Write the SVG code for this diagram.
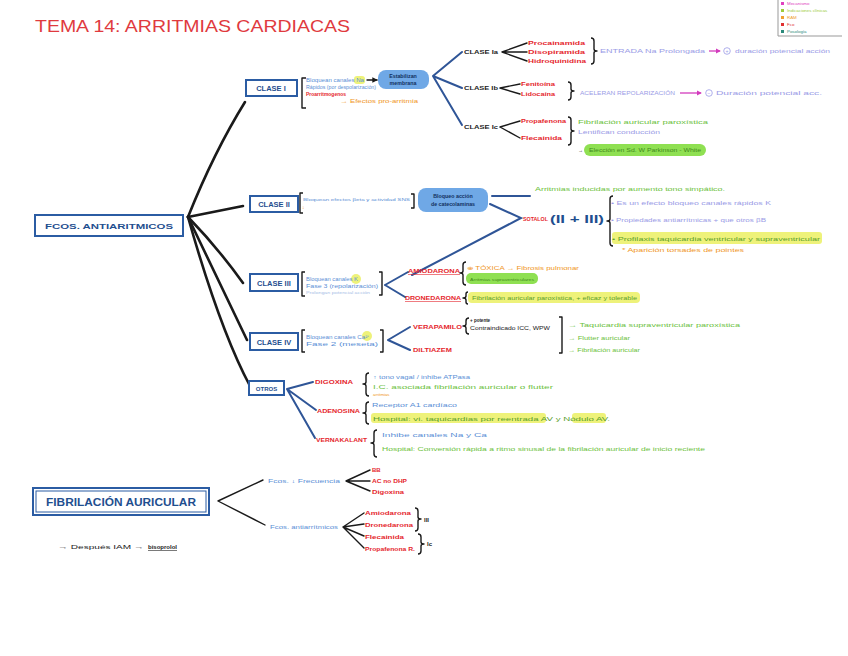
<svg xmlns="http://www.w3.org/2000/svg" width="848" height="656" viewBox="0 0 848 656">
<defs>
<style>
text{font-family:"Liberation Sans",Arial,sans-serif;}
.ttl{fill:#e03a3e;font-size:17px;}
.red{fill:#e5262d;font-weight:bold;font-size:6px;}
.blue{fill:#5b8fd6;font-size:4.8px;}
.lblue{fill:#a7bde6;font-size:4px;}
.green{fill:#6cbf3c;font-size:5px;}
.dgreen{fill:#3f8a1c;font-size:5px;}
.purple{fill:#9a9be6;font-size:5.2px;}
.orange{fill:#f0961e;font-size:5px;}
.blk{fill:#222;font-size:5px;}
.cls{fill:#1f4f8f;font-weight:bold;font-size:7.5px;}
.clsk{fill:#222;font-weight:bold;font-size:6px;}
.box{fill:#fff;stroke:#2b5ca3;stroke-width:2;}
.bub{fill:#6fa8e6;}
.bubt{fill:#12305e;font-weight:bold;font-size:5.3px;}
.main{fill:none;stroke:#1a1a1a;stroke-width:2.6;stroke-linecap:round;}
.bl{fill:none;stroke:#2f5597;stroke-width:2;stroke-linecap:round;}
.thin{fill:none;stroke:#1a1a1a;stroke-width:1.4;stroke-linecap:round;}
.br{fill:none;stroke:#1a1a1a;stroke-width:1.4;stroke-linejoin:round;}
.hy{fill:#eef27a;}
.hg{fill:#8fe052;}
</style>
<marker id="ah" viewBox="0 0 6 6" refX="5" refY="3" markerWidth="4" markerHeight="4" orient="auto"><path d="M0,0 L6,3 L0,6 z" fill="#1a1a1a"/></marker>
<marker id="ahm" viewBox="0 0 6 6" refX="5" refY="3" markerWidth="4" markerHeight="4" orient="auto"><path d="M0,0 L6,3 L0,6 z" fill="#d33bbd"/></marker>
</defs>
<rect width="848" height="656" fill="#fff"/>

<text class="ttl" x="35" y="32" textLength="315" lengthAdjust="spacingAndGlyphs">TEMA 14: ARRITMIAS CARDIACAS</text>

<g id="legend">
<path d="M778,0 L778,36 L842,36" fill="none" stroke="#999" stroke-width="1"/>
<rect x="781" y="2" width="3" height="3" fill="#e040c0"/><text x="787" y="5" style="font-size:4.4px;fill:#e040c0">Mecanismo</text>
<rect x="781" y="9" width="3" height="3" fill="#9ccc3c"/><text x="787" y="12" style="font-size:4.4px;fill:#9ccc3c">Indicaciones clínicas</text>
<rect x="781" y="16" width="3" height="3" fill="#f0a030"/><text x="787" y="19" style="font-size:4.4px;fill:#f0a030">RAM</text>
<rect x="781" y="23" width="3" height="3" fill="#e03030"/><text x="787" y="26" style="font-size:4.4px;fill:#e03030">Fco</text>
<rect x="781" y="30" width="3" height="3" fill="#2a8a7a"/><text x="787" y="33" style="font-size:4.4px;fill:#2a8a7a">Posología</text>
</g>

<g id="connectors">
<path class="main" d="M188,217 Q214,152 245,102"/>
<path class="main" d="M188,217 L243,206"/>
<path class="main" d="M188,217 Q218,248 243,283"/>
<path class="main" d="M188,217 Q226,296 247,340"/>
<path class="main" d="M188,217 Q220,330 250,386"/>
<path class="bl" d="M433,76 L462,52 M433,76 L462,88 M433,76 L462,125"/>
<path class="thin" d="M502,52 L527,43 M502,52 L527,52 M502,52 L527,61"/>
<path class="thin" d="M500,88 L520,84 M500,88 L520,94"/>
<path class="thin" d="M500,127 L520,121 M500,127 L520,138"/>
<path class="bl" d="M492,196 L530,196 M490,204 L521,218 L412,275"/>
<path class="bl" d="M385,285 L408,272 M385,285 L405,297"/>
<path class="bl" d="M388,340 L410,327 M388,340 L410,350"/>
<path class="bl" d="M287,389 L313,382 M287,389 L316,410 M287,389 L315,438"/>
<path class="thin" d="M218,501 L263,480 M218,501 L265,525"/>
<path class="thin" d="M346,481 L370,470 M346,481 L370,481 M346,481 L370,491"/>
<path class="thin" d="M343,527 L364,513 M343,527 L364,524 M343,527 L364,536 M343,527 L364,548"/>
<path class="thin" d="M367,80 L377,80" marker-end="url(#ah)"/>
</g>

<g id="fcos">
<rect class="box" x="35" y="215" width="148" height="21"/>
<text class="cls" x="109" y="229" text-anchor="middle" textLength="128" lengthAdjust="spacingAndGlyphs">FCOS. ANTIARITMICOS</text>
</g>

<g id="clase1">
<rect class="box" x="246" y="80" width="51" height="16"/>
<text class="cls" x="271" y="91" text-anchor="middle">CLASE I</text>
<path class="br" d="M306,78 L302,78 L302,108 L306,108"/>
<rect class="hy" x="354" y="76" width="11" height="8" rx="3"/>
<text class="blue" x="306" y="82" textLength="58" lengthAdjust="spacingAndGlyphs">Bloquean canales Na</text>
<text class="blue" x="306" y="89" textLength="70" lengthAdjust="spacingAndGlyphs">Rápidos (por despolarización)</text>
<text class="red" x="306" y="96" style="font-size:4.5px" textLength="40" lengthAdjust="spacingAndGlyphs">Proarritmogenos</text>
<text class="orange" x="340" y="103" textLength="78" lengthAdjust="spacingAndGlyphs">→ Efectos pro-arritmia</text>
<rect class="bub" x="378" y="70" width="51" height="19" rx="8"/>
<text class="bubt" x="403" y="78" text-anchor="middle">Estabilizan</text>
<text class="bubt" x="403" y="85" text-anchor="middle">membrana</text>
</g>

<g id="clase1a">
<text class="clsk" x="464" y="54" textLength="34" lengthAdjust="spacingAndGlyphs">CLASE Ia</text>
<text class="red" x="528" y="45" textLength="57" lengthAdjust="spacingAndGlyphs">Procainamida</text>
<text class="red" x="528" y="54" textLength="57" lengthAdjust="spacingAndGlyphs">Disopiramida</text>
<text class="red" x="528" y="63" textLength="58" lengthAdjust="spacingAndGlyphs">Hidroquinidina</text>
<path class="br" d="M591,38 Q594,38 594,41 L594,49 Q594,51 597,51 Q594,51 594,53 L594,61 Q594,64 591,64"/>
<text class="purple" x="600" y="53" textLength="105" lengthAdjust="spacingAndGlyphs">ENTRADA  Na Prolongada</text>
<path d="M709,51 L720,51" stroke="#d33bbd" stroke-width="1.3" marker-end="url(#ahm)"/>
<circle cx="727" cy="51" r="3.3" fill="none" stroke="#9a9be6" stroke-width="0.8"/>
<text class="purple" x="727" y="53" text-anchor="middle" style="font-size:5px">+</text>
<text class="purple" x="735" y="53" textLength="95" lengthAdjust="spacingAndGlyphs">duración potencial acción</text>
</g>

<g id="clase1b">
<text class="clsk" x="464" y="90" textLength="34" lengthAdjust="spacingAndGlyphs">CLASE Ib</text>
<text class="red" x="521" y="86" textLength="34" lengthAdjust="spacingAndGlyphs">Fenitoína</text>
<text class="red" x="521" y="96" textLength="34" lengthAdjust="spacingAndGlyphs">Lidocaína</text>
<path class="br" d="M568,82 Q571,82 571,85 L571,89 Q571,91 574,91 Q571,91 571,93 L571,97 Q571,100 568,100"/>
<text class="purple" x="580" y="95" textLength="95" lengthAdjust="spacingAndGlyphs">ACELERAN  REPOLARIZACIÓN</text>
<path d="M680,93 L701,93" stroke="#d33bbd" stroke-width="1.3" marker-end="url(#ahm)"/>
<circle cx="709" cy="93" r="3.3" fill="none" stroke="#9a9be6" stroke-width="0.8"/>
<text class="purple" x="709" y="95" text-anchor="middle" style="font-size:5px">−</text>
<text class="purple" x="716" y="95" textLength="106" lengthAdjust="spacingAndGlyphs">Duración potencial acc.</text>
</g>

<g id="clase1c">
<text class="clsk" x="464" y="129" textLength="34" lengthAdjust="spacingAndGlyphs">CLASE Ic</text>
<text class="red" x="521" y="123" textLength="45" lengthAdjust="spacingAndGlyphs">Propafenona</text>
<text class="red" x="521" y="140" textLength="41" lengthAdjust="spacingAndGlyphs">Flecainida</text>
<path class="br" d="M568,117 Q571,117 571,120 L571,129 Q571,131 574,131 Q571,131 571,133 L571,142 Q571,145 568,145"/>
<text class="green" x="578" y="124" textLength="130" lengthAdjust="spacingAndGlyphs">Fibrilación auricular  paroxística</text>
<text class="purple" x="578" y="134" textLength="82" lengthAdjust="spacingAndGlyphs">Lentifican conducción</text>
<text class="blk" x="578" y="152">→</text>
<rect class="hg" x="584" y="144" width="122" height="12" rx="6"/>
<text class="dgreen" x="589" y="152" textLength="112" lengthAdjust="spacingAndGlyphs">Elección en  Sd. W  Parkinson - White</text>
</g>

<g id="clase2">
<rect class="box" x="250" y="196" width="48" height="16"/>
<text class="cls" x="274" y="207" text-anchor="middle">CLASE II</text>
<path class="br" d="M303,193 L300,193 L300,213 L303,213"/>
<text class="blue" x="303" y="201" style="font-size:4.3px" textLength="107" lengthAdjust="spacingAndGlyphs">Bloquean efectos βeta y actividad SNS</text>
<text class="orange" x="302" y="209" style="font-size:5px">↓</text>
<path class="br" d="M411,194 L414,194 L414,208 L411,208"/>
<rect class="bub" x="418" y="188" width="70" height="24" rx="8"/>
<text class="bubt" x="453" y="198" text-anchor="middle">Bloqueo acción</text>
<text class="bubt" x="453" y="206" text-anchor="middle">de catecolaminas</text>
<text class="green" x="535" y="191" textLength="190" lengthAdjust="spacingAndGlyphs">Arritmias inducidas por aumento tono simpático.</text>
</g>

<g id="sotalol">
<text class="red" x="523" y="221" textLength="25" lengthAdjust="spacingAndGlyphs">SOTALOL</text>
<text class="cls" x="550" y="223" style="font-size:10px" textLength="54" lengthAdjust="spacingAndGlyphs">(II + III)</text>
<path class="br" d="M613,196 Q610,196 610,199 L610,219 Q610,221 607,221 Q610,221 610,223 L610,243 Q610,246 613,246"/>
<text class="purple" x="611" y="205" textLength="160" lengthAdjust="spacingAndGlyphs">• Es un efecto bloqueo canales rápidos K</text>
<text class="purple" x="611" y="222" textLength="155" lengthAdjust="spacingAndGlyphs">• Propiedades antiarrítmicas + que otros βB</text>
<rect class="hy" x="612" y="232" width="210" height="12" rx="3"/>
<text class="green" x="612" y="241" style="fill:#5aa02c" textLength="208" lengthAdjust="spacingAndGlyphs">• Profilaxis taquicardia ventricular y supraventricular</text>
<text class="orange" x="622" y="252" textLength="122" lengthAdjust="spacingAndGlyphs">* Aparición torsades de pointes</text>
</g>

<g id="clase3">
<rect class="box" x="250" y="274" width="48" height="17"/>
<text class="cls" x="274" y="286" text-anchor="middle">CLASE III</text>
<path class="br" d="M305,272 L302,272 L302,296 L305,296"/>
<circle class="hy" cx="356" cy="279" r="5"/>
<text class="blue" x="306" y="281" textLength="52" lengthAdjust="spacingAndGlyphs">Bloquean canales K</text>
<text class="blue" x="306" y="288" textLength="72" lengthAdjust="spacingAndGlyphs">Fase 3 (repolarización)</text>
<text class="lblue" x="306" y="294" textLength="64" lengthAdjust="spacingAndGlyphs">Prolongan potencial acción</text>
<path class="br" d="M379,272 L382,272 L382,295 L379,295"/>
</g>

<g id="amiodarona">
<text class="red" x="408" y="273" style="text-decoration:underline" textLength="52" lengthAdjust="spacingAndGlyphs">AMIODARONA</text>
<path class="br" d="M466,262 Q463,262 463,265 L463,271 Q463,273 460,273 Q463,273 463,275 L463,282 Q463,285 466,285"/>
<text class="orange" x="467" y="270" textLength="112" lengthAdjust="spacingAndGlyphs">⊕ TÓXICA → Fibrosis pulmonar</text>
<rect class="hg" x="466" y="273" width="72" height="11" rx="5"/>
<text class="dgreen" x="470" y="281" style="font-size:4.2px" textLength="64" lengthAdjust="spacingAndGlyphs">Arritmias supraventriculares</text>
</g>

<g id="dronedarona">
<text class="red" x="405" y="300" style="text-decoration:underline" textLength="56" lengthAdjust="spacingAndGlyphs">DRONEDARONA</text>
<path class="br" d="M468,292 Q466,292 466,294 L466,296 Q466,298 463,298 Q466,298 466,300 L466,302 Q466,304 468,304"/>
<rect class="hy" x="468" y="292" width="172" height="11" rx="4"/>
<text class="green" x="472" y="300" style="fill:#5aa02c" textLength="165" lengthAdjust="spacingAndGlyphs">Fibrilación auricular paroxística, + eficaz y tolerable</text>
</g>

<g id="clase4">
<rect class="box" x="250" y="333" width="48" height="17"/>
<text class="cls" x="274" y="345" text-anchor="middle">CLASE IV</text>
<path class="br" d="M305,330 L302,330 L302,352 L305,352"/>
<circle class="hy" cx="367" cy="336" r="5"/>
<text class="blue" x="306" y="339" textLength="64" lengthAdjust="spacingAndGlyphs">Bloquean canales Ca²⁺</text>
<text class="blue" x="306" y="346" textLength="72" lengthAdjust="spacingAndGlyphs">Fase 2 (meseta)</text>
<path class="br" d="M380,330 L383,330 L383,352 L380,352"/>
</g>

<g id="verapamilo">
<text class="red" x="413" y="329" textLength="49" lengthAdjust="spacingAndGlyphs">VERAPAMILO</text>
<path class="br" d="M469,318 Q466,318 466,321 L466,324 Q466,326 463,326 Q466,326 466,328 L466,331 Q466,334 469,334"/>
<text class="blk" x="470" y="322" style="font-size:4.5px;font-weight:bold">+ potente</text>
<text class="blk" x="470" y="330" style="font-size:4.5px" textLength="80" lengthAdjust="spacingAndGlyphs">Contraindicado ICC, WPW</text>
<path class="br" d="M559,317 L562,317 L562,353 L559,353"/>
<text class="green" x="568" y="327" textLength="172" lengthAdjust="spacingAndGlyphs">→ Taquicardia supraventricular paroxística</text>
<text class="green" x="568" y="340" textLength="62" lengthAdjust="spacingAndGlyphs">→ Flutter auricular</text>
<text class="green" x="568" y="352" textLength="72" lengthAdjust="spacingAndGlyphs">→ Fibrilación auricular</text>
</g>

<g id="diltiazem">
<text class="red" x="413" y="352" textLength="39" lengthAdjust="spacingAndGlyphs">DILTIAZEM</text>
</g>

<g id="otros">
<rect class="box" x="249" y="381" width="35" height="14"/>
<text class="cls" x="266.5" y="391" text-anchor="middle" style="font-size:6px">OTROS</text>
</g>

<g id="digoxina">
<text class="red" x="315" y="384" textLength="38" lengthAdjust="spacingAndGlyphs">DIGOXINA</text>
<path class="br" d="M369,373 Q366,373 366,376 L366,382 Q366,384 363,384 Q366,384 366,386 L366,393 Q366,396 369,396"/>
<text class="blue" x="373" y="379" textLength="97" lengthAdjust="spacingAndGlyphs">↑ tono vagal / inhibe ATPasa</text>
<text class="green" x="373" y="389" textLength="180" lengthAdjust="spacingAndGlyphs">I.C. asociada  fibrilación auricular  o flutter</text>
<text class="orange" x="373" y="396" style="font-size:4.3px">arritmias</text>
</g>

<g id="adenosina">
<text class="red" x="317" y="413" textLength="43" lengthAdjust="spacingAndGlyphs">ADENOSINA</text>
<path class="br" d="M369,402 Q366,402 366,405 L366,411 Q366,413 363,413 Q366,413 366,415 L366,421 Q366,424 369,424"/>
<text class="blue" x="372" y="407" textLength="85" lengthAdjust="spacingAndGlyphs">Receptor A1 cardíaco</text>
<rect class="hy" x="371" y="413" width="175" height="10" rx="3"/>
<rect class="hy" x="572" y="413" width="34" height="10" rx="3"/>
<text class="green" x="373" y="421" style="fill:#5aa02c" textLength="237" lengthAdjust="spacingAndGlyphs">Hospital: vi. taquicardias por reentrada AV y Nódulo AV.</text>
</g>

<g id="vernakalant">
<text class="red" x="316" y="442" textLength="51" lengthAdjust="spacingAndGlyphs">VERNAKALANT</text>
<path class="br" d="M377,430 Q374,430 374,433 L374,441 Q374,443 371,443 Q374,443 374,445 L374,454 Q374,457 377,457"/>
<text class="blue" x="382" y="437" textLength="105" lengthAdjust="spacingAndGlyphs">Inhibe canales Na y Ca</text>
<text class="green" x="382" y="451" textLength="323" lengthAdjust="spacingAndGlyphs">Hospital: Conversión rápida a ritmo sinusal de la fibrilación auricular de inicio reciente</text>
</g>

<g id="fa">
<rect class="box" x="33" y="488" width="176" height="27"/>
<rect x="36" y="491" width="170" height="21" fill="none" stroke="#2b5ca3" stroke-width="1"/>
<text class="cls" x="121" y="506" text-anchor="middle" style="font-size:10px" textLength="150" lengthAdjust="spacingAndGlyphs">FIBRILACIÓN AURICULAR</text>
</g>

<g id="fa-frecuencia">
<text class="blue" x="268" y="483" style="font-size:5px" textLength="72" lengthAdjust="spacingAndGlyphs">Fcos. ↓ Frecuencia</text>
<text class="red" x="372" y="472">BB</text>
<text class="red" x="372" y="483" textLength="35" lengthAdjust="spacingAndGlyphs">AC no DHP</text>
<text class="red" x="372" y="494" textLength="32" lengthAdjust="spacingAndGlyphs">Digoxina</text>
</g>

<g id="fa-antiarritmicos">
<text class="blue" x="270" y="529" style="font-size:5px" textLength="68" lengthAdjust="spacingAndGlyphs">Fcos. antiarrítmicos</text>
<text class="red" x="365" y="515" textLength="46" lengthAdjust="spacingAndGlyphs">Amiodarona</text>
<text class="red" x="365" y="527" textLength="48" lengthAdjust="spacingAndGlyphs">Dronedarona</text>
<text class="red" x="365" y="539" textLength="39" lengthAdjust="spacingAndGlyphs">Flecainida</text>
<text class="red" x="365" y="551" textLength="50" lengthAdjust="spacingAndGlyphs">Propafenona R.</text>
<path class="br" d="M415,508 Q418,508 418,511 L418,517 Q418,519 421,519 Q418,519 418,521 L418,528 Q418,531 415,531"/>
<text class="blk" x="424" y="522" style="font-size:6px;font-weight:bold">III</text>
<path class="br" d="M418,534 Q421,534 421,537 L421,542 Q421,544 424,544 Q421,544 421,546 L421,551 Q421,554 418,554"/>
<text class="blk" x="427" y="546" style="font-size:6px;font-weight:bold">Ic</text>
</g>

<g id="iam">
<text class="blk" x="58" y="549" style="font-size:6px" textLength="86" lengthAdjust="spacingAndGlyphs">→ Después IAM →</text>
<text class="blk" x="148" y="549" style="font-size:6px;text-decoration:underline;font-weight:bold">bisoprolol</text>
</g>
</svg>
